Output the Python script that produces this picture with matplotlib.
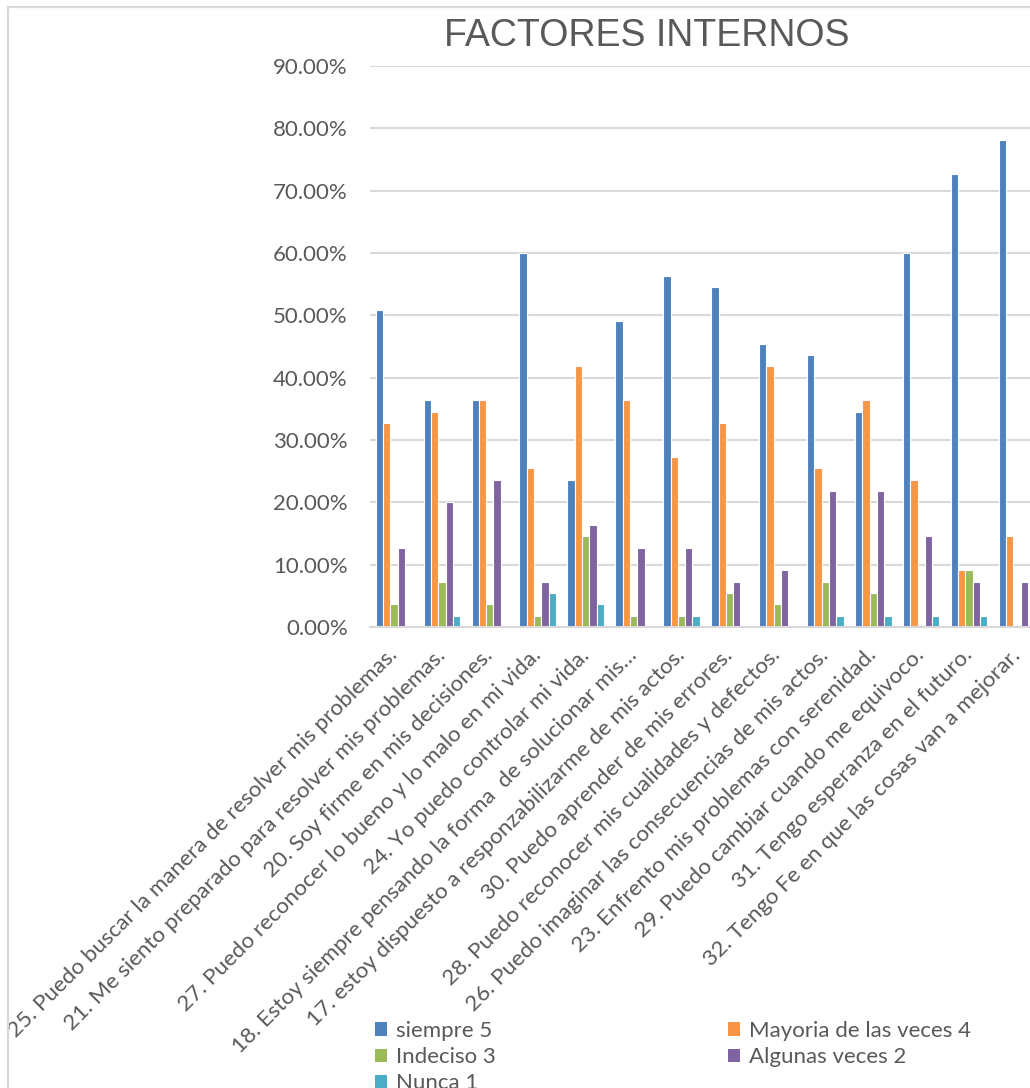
import matplotlib
matplotlib.use("Agg")

import numpy as np
import matplotlib.pyplot as plt
from matplotlib.patches import Patch, Rectangle
from matplotlib.ticker import FuncFormatter
from matplotlib.transforms import ScaledTranslation


# ---------------------------------
# Datos
# ---------------------------------

preguntas = [
    "25. Puedo buscar la manera de resolver mis problemas.",
    "21. Me siento preparado para resolver mis problemas.",
    "20. Soy firme en mis decisiones.",
    "27. Puedo reconocer lo bueno y lo malo en mi vida.",
    "24. Yo puedo controlar mi vida.",
    "18. Estoy siempre pensando la forma  de solucionar mis…",
    "17. estoy dispuesto a responzabilizarme de mis actos.",
    "30. Puedo aprender de mis errores.",
    "28. Puedo reconocer mis cualidades y defectos.",
    "26. Puedo imaginar las consecuencias de mis actos.",
    "23. Enfrento mis problemas con serenidad.",
    "29. Puedo cambiar cuando me equivoco.",
    "31. Tengo esperanza en el futuro.",
    "32. Tengo Fe en que las cosas van a mejorar.",
]

siempre = [0.5091, 0.3636, 0.3636, 0.6000, 0.2364, 0.4909, 0.5636,
           0.5455, 0.4545, 0.4364, 0.3455, 0.6000, 0.7273, 0.7818]
mayoria = [0.3273, 0.3455, 0.3636, 0.2545, 0.4182, 0.3636, 0.2727,
           0.3273, 0.4182, 0.2545, 0.3636, 0.2364, 0.0909, 0.1455]
indeciso = [0.0364, 0.0727, 0.0364, 0.0182, 0.1455, 0.0182, 0.0182,
            0.0545, 0.0364, 0.0727, 0.0545, 0.0, 0.0909, 0.0]
algunas = [0.1273, 0.2000, 0.2364, 0.0727, 0.1636, 0.1273, 0.1273,
           0.0727, 0.0909, 0.2182, 0.2182, 0.1455, 0.0727, 0.0727]
nunca = [0.0, 0.0182, 0.0, 0.0545, 0.0364, 0.0, 0.0182,
         0.0, 0.0, 0.0182, 0.0182, 0.0182, 0.0182, 0.0]

series = [
    ("siempre 5", siempre, "#4F81BD"),
    ("Mayoria de las veces 4", mayoria, "#F79646"),
    ("Indeciso 3", indeciso, "#9BBB59"),
    ("Algunas veces 2", algunas, "#8064A2"),
    ("Nunca 1", nunca, "#4BACC6"),
]

gris = "#595959"
plt.rcParams["font.family"] = ["Lato", "DejaVu Sans"]


# ---------------------------------
# Figura
# ---------------------------------

fig = plt.figure(figsize=(10.30, 10.88), dpi=100)

# marco del grafico
fig.add_artist(Rectangle((8 / 1030, -0.1), 1.2, 1.1 - 7 / 1088,
                         transform=fig.transFigure, fill=False,
                         edgecolor="#d9d9d9", linewidth=1.6))

ax = fig.add_axes([370 / 1030, 461 / 1088, 671 / 1030, 561 / 1088])

x = np.arange(len(preguntas))
ancho = 0.1524

for i, (nombre, valores, color) in enumerate(series):
    ax.bar(x + (i - 2) * ancho, valores, width=ancho, color=color,
           edgecolor="white", linewidth=0.8, label=nombre)

ax.set_xlim(-0.5, len(preguntas) - 0.5)
ax.set_ylim(0, 0.9)
ax.set_yticks(np.arange(0, 0.91, 0.1))
ax.yaxis.set_major_formatter(FuncFormatter(lambda v, p: f"{v * 100:.2f}%"))

ax.grid(axis="y", color="#d9d9d9", linewidth=1.5)
ax.set_axisbelow(True)

for lado in ["top", "right", "left"]:
    ax.spines[lado].set_visible(False)
ax.spines["bottom"].set_color("#d9d9d9")
ax.spines["bottom"].set_linewidth(1.5)

ax.tick_params(axis="y", length=0, pad=16, labelsize=16, labelcolor=gris)
ax.tick_params(axis="x", length=0, pad=13, labelsize=16.1, labelcolor=gris)

ax.set_xticks(x)
ax.set_xticklabels(preguntas, rotation=45, ha="right",
                   rotation_mode="anchor")

# correr las etiquetas un poco a la izquierda
desplazamiento = ScaledTranslation(-7 / 100, 0, fig.dpi_scale_trans)
for etiqueta in ax.get_xticklabels():
    etiqueta.set_transform(etiqueta.get_transform() + desplazamiento)


# ---------------------------------
# Titulo
# ---------------------------------

fig.text(647 / 1030, 1 - 36 / 1088, "FACTORES INTERNOS",
         ha="center", va="center", fontsize=27, color=gris,
         family=["Liberation Sans Narrow", "Liberation Sans", "DejaVu Sans"])


# ---------------------------------
# Leyenda
# ---------------------------------

handles = {nombre: Patch(facecolor=color) for nombre, _, color in series}
orden = ["siempre 5", "Indeciso 3", "Nunca 1",
         "Mayoria de las veces 4", "Algunas veces 2"]

fig.legend([handles[n] for n in orden], orden,
           loc="upper left", bbox_to_anchor=(375 / 1030, 1 - 1021 / 1088),
           ncol=2, frameon=False, fontsize=16, labelcolor=gris,
           handlelength=0.55, handleheight=0.55, handletextpad=0.4,
           labelspacing=0.28, columnspacing=10.45, borderpad=0,
           borderaxespad=0)

fig.savefig("out.png", dpi=100)
